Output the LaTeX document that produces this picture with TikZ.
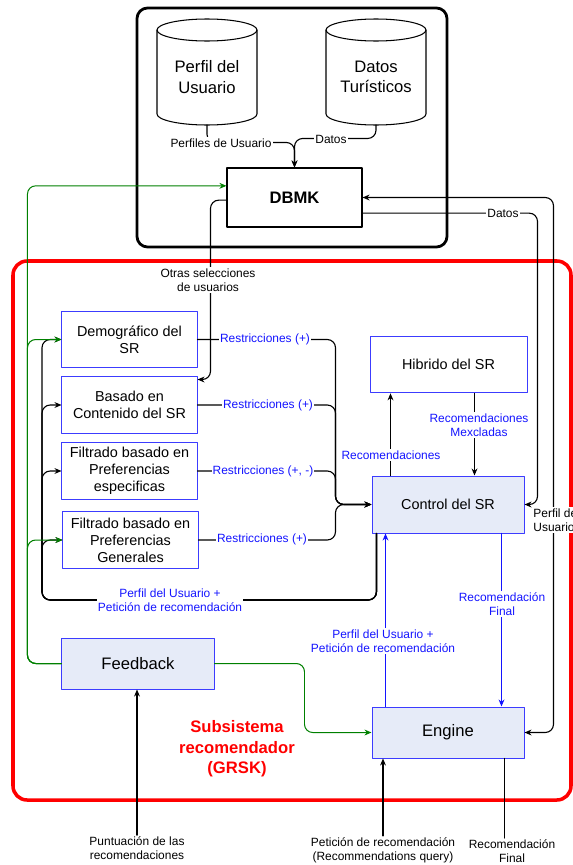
\documentclass[tikz,border=0pt]{standalone}
\usepackage{fontspec}
\setmainfont{Liberation Sans}
\usetikzlibrary{positioning,arrows.meta}
\definecolor{srblue}{RGB}{20,20,255}
\definecolor{boxblue}{RGB}{60,60,255}
\definecolor{srfill}{RGB}{230,235,248}
\definecolor{srgreen}{RGB}{0,128,0}
\begin{document}
\begin{tikzpicture}[x=0.03cm,y=-0.03cm,>={Stealth[length=6pt,width=5pt]},line join=round,line cap=round,
	txtL/.style={font=\fontsize{14.2}{17.5}\selectfont,align=center},
	txtM/.style={font=\fontsize{12.3}{14.5}\selectfont,align=center},
	lbl/.style={font=\fontsize{10.2}{12}\selectfont,align=center,fill=white,inner sep=1pt},
	blbl/.style={lbl,text=srblue},
	srbox/.style={draw=boxblue,line width=0.85pt,fill=white,txtM,minimum width=4.05cm,minimum height=1.7cm,inner sep=0pt},
	ctbox/.style={draw=boxblue,line width=0.85pt,fill=srfill,minimum width=4.56cm,minimum height=1.53cm,inner sep=0pt},
	flow/.style={draw,line width=0.95pt,rounded corners=7pt},
	bflow/.style={flow,draw=srblue},
	gflow/.style={flow,draw=srgreen,line width=0.85pt}]
	\fill[white] (0,0) rectangle (573,865);
	\useasboundingbox (0,0) rectangle (573,865);
	% base de conocimiento
	\draw[line width=2.4pt,rounded corners=9pt] (137,8) rectangle (447,247);
	\foreach \cx in {207,376}{
		\draw[line width=0.9pt,fill=white] (\cx-50,30) -- (\cx-50,114) arc[start angle=180,end angle=0,x radius=50,y radius=11] -- (\cx+50,30);
		\draw[line width=0.9pt] (\cx,30) ellipse[x radius=50,y radius=11];
	}
	\node[txtL] (perfil) at (207,77) {Perfil del\\Usuario};
	\node[txtL] (turis) at (376,77) {Datos\\Turísticos};
	\coordinate (perfil-b) at (207,125);
	\coordinate (turis-b) at (376,125);
	\node[draw,fill=white,line width=0.9pt,minimum width=4.05cm,minimum height=1.77cm,font=\fontsize{14.2}{17}\selectfont\bfseries] (dbmk) at (294.5,197.5) {DBMK};
	% subsistema
	\draw[red,line width=3pt,rounded corners=12pt] (13,261) rectangle (571,800);
	\node[txtL,text=red,font=\fontsize{14.2}{17.5}\selectfont\bfseries] (grsk) at (237,749) {Subsistema\\recomendador\\(GRSK)};
	\node[srbox] (demo) at (129.5,339.5) {Demográfico del\\SR};
	\node[srbox] (cont) at (129.5,405) {Basado en\\Contenido del SR};
	\node[srbox] (espe) at (129.5,471) {Filtrado basado en\\Preferencias\\especificas};
	\node[srbox] (gene) at (130.5,540) {Filtrado basado en\\Preferencias\\Generales};
	\node[srbox,minimum width=4.71cm] (hib) at (448.5,364.5) {Hibrido del SR};
	\node[ctbox,txtM,minimum height=1.71cm] (ctrl) at (448,504.5) {Control del SR};
	\node[ctbox,txtL] (eng) at (448,732.5) {Engine};
	\node[ctbox,txtL] (feed) at (138,663.5) {Feedback};
	% hacia DBMK
	\draw[flow,->] (perfil-b) |- ([yshift=0.75cm]dbmk.north) -- (dbmk.north);
	\draw[flow,->] (turis-b) |- ([yshift=0.87cm]dbmk.north) -- (dbmk.north);
	\node[lbl] (lperf) at (221,143) {Perfiles de Usuario};
	\node[lbl] (ldat1) at (331,139) {Datos};
	% perfil + peticion hacia los SR
	\coordinate (pu) at ([xshift=0.15cm]ctrl.south west);
	\coordinate (pl) at (42,600);
	\foreach \b in {demo,cont,espe,gene}
		\draw[flow,->] (pu) |- (pl) |- (\b.west);
	\node[blbl] (lpu) at (170,600) {Perfil del Usuario +\\Petición de recomendación};
	% feedback
	\coordinate (gIn) at ([yshift=0.35cm]dbmk.west);
	\draw[gflow,->] (feed.west) -| ([xshift=-5.97cm]gIn) -- (gIn);
	\draw[gflow,->] (feed.west) -| ([xshift=-1.02cm]demo.west) -- (demo.west);
	\draw[gflow,->] (feed.west) -| ([xshift=-1.05cm]gene.west) -- (gene.west);
	\draw[gflow,->] (feed.east) -| ([xshift=-2.01cm]eng.west) -- (eng.west);
	% restricciones
	\coordinate (mrg) at ([xshift=-1.08cm]ctrl.west);
	\foreach \b in {demo,cont,espe,gene}
		\draw[flow,->] (\b.east) -| (mrg) -- (ctrl.west);
	\node[blbl] (lr1) at (265,339) {Restricciones (+)};
	\node[blbl] (lr2) at (268,405) {Restricciones (+)};
	\node[blbl] (lr3) at (263,471) {Restricciones (+, -)};
	\node[blbl] (lr4) at (262,539) {Restricciones (+)};
	% otras selecciones
	\coordinate (dbL) at ([yshift=-0.08cm]dbmk.west);
	\coordinate (contIn) at ([yshift=-0.1cm]cont.north east);
	\draw[flow,->] (dbL) -| ([xshift=0.39cm]contIn) -- (contIn);
	\node[lbl] (lotr) at (208,280) {Otras selecciones\\de usuarios};
	% control, hibrido, engine
	\coordinate (rc) at ([xshift=0.57cm]ctrl.north west);
	\draw[flow,->] (rc) -- (rc |- hib.south);
	\node[blbl] (lrec) at (391,455) {Recomendaciones};
	\coordinate (mx) at ([xshift=3.15cm]hib.south west);
	\draw[flow,->] (mx) -- (mx |- ctrl.north);
	\node[blbl] (lmex) at (479,425) {Recomendaciones\\Mexcladas};
	\coordinate (pe) at ([xshift=0.42cm]eng.north west);
	\draw[bflow,->] (pe) -- (pe |- ctrl.south);
	\node[blbl] (lpe) at (383,641) {Perfil del Usuario +\\Petición de recomendación};
	\coordinate (fi) at ([xshift=3.9cm]ctrl.south west);
	\draw[bflow,->] (fi) -- (fi |- eng.north);
	\node[blbl] (lfi) at (502,604) {Recomendación\\Final};
	% lado derecho
	\coordinate (dbD) at ([yshift=-0.47cm]dbmk.east);
	\draw[flow,->] (dbD) -| ([xshift=0.39cm]ctrl.east) -- (ctrl.east);
	\node[lbl] (ldat2) at (503,213) {Datos};
	\draw[flow,<->] (dbmk.east) -| ([xshift=0.87cm]eng.east) -- (eng.east);
	\node[lbl,anchor=west,align=left] (lusu) at (532,520) {Perfil del\\Usuario};
	% entradas y salidas
	\node[lbl] (punt) at (137,848) {Puntuación de las\\recomendaciones};
	\draw[flow,->] (punt.north) -- (punt.north |- feed.south);
	\node[lbl] (peti) at (383,850) {Petición de recomendación\\(Recommendations query)};
	\draw[flow,->] (peti.north) -- (peti.north |- eng.south);
	\node[lbl] (rfin) at (512,851) {Recomendación\\Final};
	\coordinate (ef) at ([xshift=3.99cm]eng.south west);
	\draw[flow] (ef) -- (ef |- rfin.north);
\end{tikzpicture}
\end{document}
